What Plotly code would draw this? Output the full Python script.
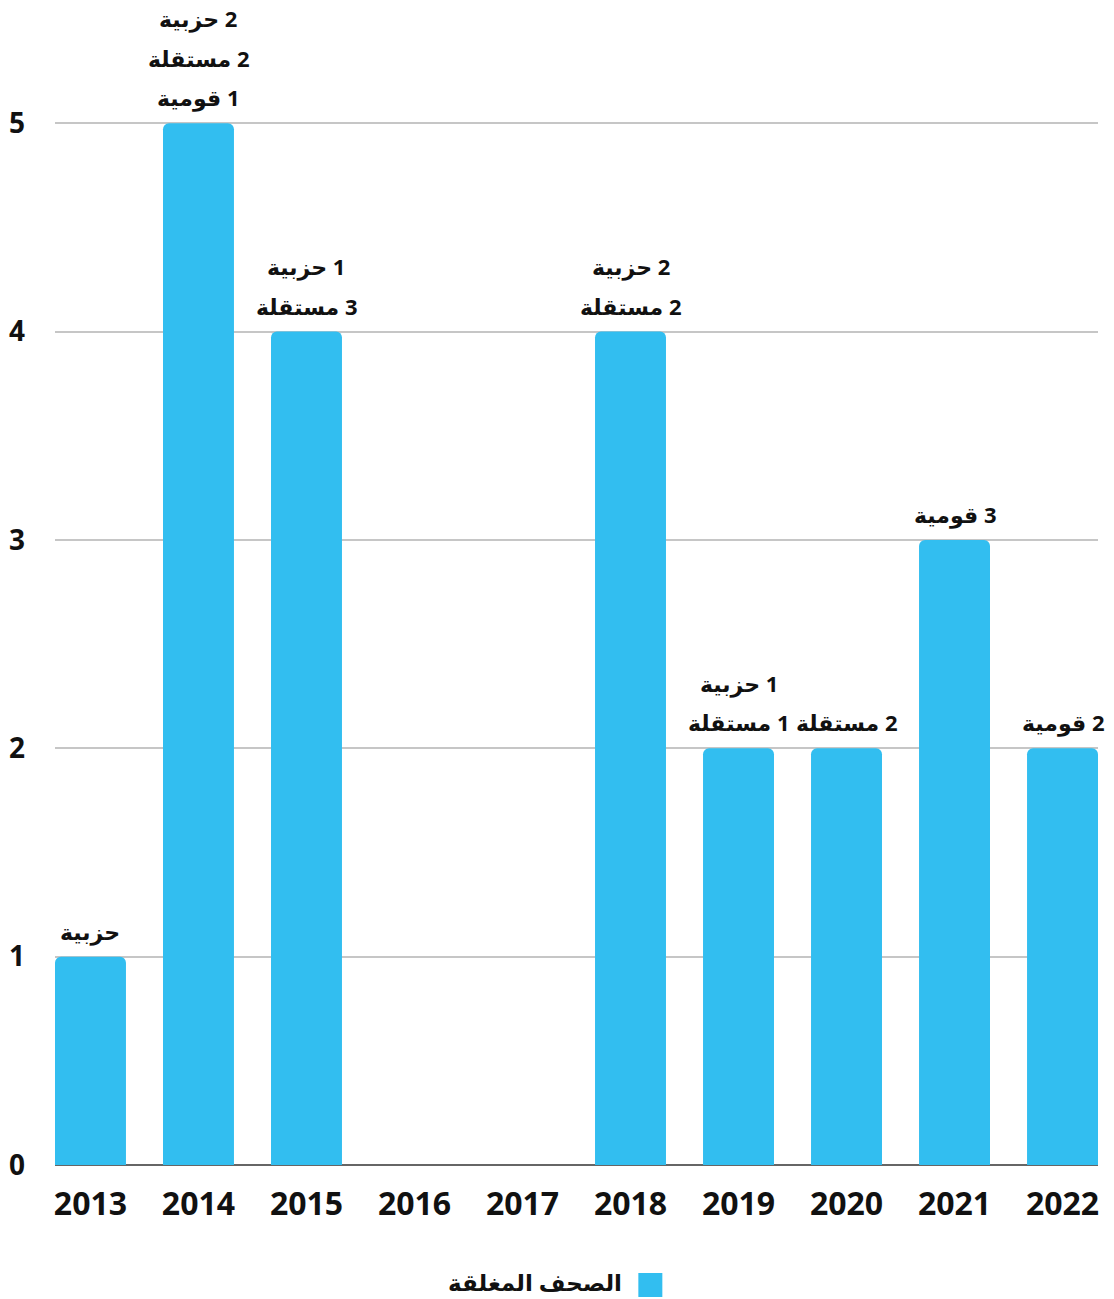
import plotly.graph_objects as go

years = ["2013", "2014", "2015", "2016", "2017", "2018", "2019", "2020", "2021", "2022"]
closed = [1, 5, 4, 0, 0, 4, 2, 2, 3, 2]
labels = [
    ["حزبية"],
    ["2 حزبية", "2 مستقلة", "1 قومية"],
    ["1 حزبية", "3 مستقلة"],
    [],
    [],
    ["2 حزبية", "2 مستقلة"],
    ["1 حزبية", "1 مستقلة"],
    ["2 مستقلة"],
    ["3 قومية"],
    ["2 قومية"],
]
series_name = "الصحف المغلقة"
y_ticks = [0, 1, 2, 3, 4, 5]

BAR = "#32BEF0"
FONT = "Noto Sans, DejaVu Sans, sans-serif"
RLM = "\u200F"

xs = list(range(len(years)))
fig = go.Figure()
fig.add_trace(go.Bar(
    x=xs, y=closed, width=0.657, marker=dict(color=BAR, line=dict(width=0)),
    name=series_name, showlegend=False, hoverinfo="skip",
))

for i, (v, lines) in enumerate(zip(closed, labels)):
    n = len(lines)
    for j, line in enumerate(lines):
        k = n - 1 - j  # index from bottom
        fig.add_annotation(
            x=i, y=v, xref="x", yref="y", text="<b>" + RLM + line + "</b>",
            showarrow=False, yanchor="middle", xanchor="center",
            yshift=26 + 39.5 * k,
            font=dict(family=FONT, size=22, color="#111111"),
        )

# legend (RTL style: text left of swatch)
fig.add_shape(type="rect", xref="paper", yref="paper", xsizemode="pixel", ysizemode="pixel",
              xanchor=0.5708, yanchor=-0.1047, x0=-12, x1=12, y0=-12, y1=12,
              fillcolor=BAR, line=dict(width=0))
fig.add_annotation(x=0.5455, y=-0.1021, xref="paper", yref="paper", xanchor="right", yanchor="middle",
                   text="<b>" + RLM + series_name + "</b>", showarrow=False,
                   font=dict(family=FONT, size=23, color="#111111"))

fig.update_layout(
    width=1114, height=1299,
    margin=dict(l=55, r=16, t=19, b=134),
    paper_bgcolor="white", plot_bgcolor="white",
    barcornerradius=6,
    font=dict(family=FONT, color="#111111"),
    xaxis=dict(
        range=[-0.3285, 9.3285], tickmode="array", tickvals=xs, ticktext=years,
        showgrid=False, zeroline=False, showline=False, automargin=False,
        tickfont=dict(family=FONT, size=32, color="#111111", weight="bold"),
        ticks="", ticklabelstandoff=17, fixedrange=True,
    ),
    yaxis=dict(
        range=[0, 5.5], tickmode="array", tickvals=y_ticks,
        showgrid=True, gridcolor="#C6C6C6", gridwidth=2,
        zeroline=True, zerolinecolor="#666666", zerolinewidth=2,
        showline=False, ticks="", automargin=False,
        tickfont=dict(family=FONT, size=28, color="#111111", weight="bold"),
        ticklabelstandoff=29, fixedrange=True,
    ),
)

fig.write_html("out.html")
